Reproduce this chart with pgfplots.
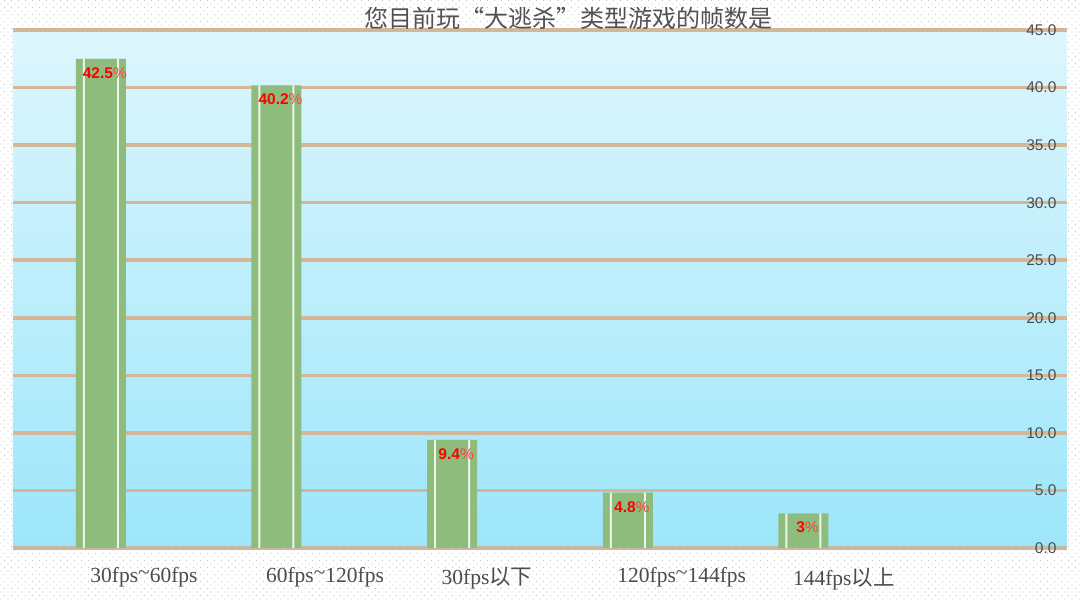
\documentclass[border=0pt]{standalone}
\usepackage{pgfplots}
\pgfplotsset{compat=1.18}
\usepackage{fontspec}
\setmainfont{Liberation Sans}
\newfontfamily\cjk{Noto Sans CJK SC}
\newfontfamily\lserif{Liberation Serif}
\usetikzlibrary{patterns}
\definecolor{bgtop}{HTML}{DDF6FD}
\definecolor{bgbot}{HTML}{9DE6FA}
\definecolor{gridc}{HTML}{D4B698}
\definecolor{barg}{HTML}{8EBC7C}
\definecolor{topc}{HTML}{E2AE88}
\definecolor{botc}{HTML}{C8B9A2}
\pgfdeclarepatternformonly{sdots}{\pgfqpoint{-1pt}{-1pt}}{\pgfqpoint{8pt}{8pt}}{\pgfqpoint{7pt}{7pt}}{%
  \pgfpathcircle{\pgfqpoint{1pt}{1pt}}{0.55pt}%
  \pgfpathcircle{\pgfqpoint{4.5pt}{4.5pt}}{0.55pt}%
  \pgfusepath{fill}}
\newcommand{\tl}{\raisebox{0.35ex}{\textasciitilde}}
\begin{document}
\begin{tikzpicture}
\path[use as bounding box] (0,0) rectangle (1080pt,600pt);
\fill[white] (0,0) rectangle (1080pt,600pt);
\fill[pattern=sdots, pattern color=black!22] (0,0) rectangle (1080pt,600pt);
\begin{axis}[
  at={(13pt,52pt)}, anchor=south west,
  scale only axis, width=1054pt, height=518pt,
  xmin=-0.5, xmax=5.5, ymin=0, ymax=45,
  axis background/.style={top color=bgtop, bottom color=bgbot},
  axis line style={draw=none},
  /pgf/number format/assume math mode=true,
  xtick={0,1,2,3,4},
  xticklabels={30fps\tl60fps, 60fps\tl120fps, 30fps{\cjk 以下}, 120fps\tl144fps, 144fps{\cjk 以上}},
  xticklabel style={font=\lserif\fontsize{21.5}{24}\selectfont, text=black!70, anchor=north west, xshift=-14pt, yshift=-16pt},
  major tick length=0pt,
  ytick={5,10,...,45},
  extra y ticks={0},
  extra y tick style={ymajorgrids, major grid style={line width=3.5pt, botc}},
  ymajorgrids, major grid style={line width=3.5pt, gridc},
  yticklabel pos=right,
  yticklabel style={anchor=east, xshift=-7pt, font=\fontsize{15.5}{18}\selectfont, text=black!70,
    /pgf/number format/.cd, fixed, fixed zerofill, precision=1},
  clip=false,
]
\addplot[ybar, bar width=50pt, bar shift=0pt, fill=barg, draw=none]
  coordinates {(0,42.5) (1,40.2) (2,9.4) (3,4.8) (4,3)};
\addplot[ybar, bar width=36pt, bar shift=0pt, fill=white!85!barg, draw=none]
  coordinates {(0,42.5) (1,40.2) (2,9.4) (3,4.8) (4,3)};
\addplot[ybar, bar width=32pt, bar shift=0pt, fill=barg, draw=none,
  nodes near coords={\textbf{\pgfmathprintnumber{\pgfplotspointmeta}}{\color{red!75}\%}},
  every node near coord/.append style={anchor=north, yshift=-5pt, xshift=4pt, text=red, font=\fontsize{15.5}{18}\selectfont}]
  coordinates {(0,42.5) (1,40.2) (2,9.4) (3,4.8) (4,3)};
\end{axis}
\node[text=black!68, font=\cjk\fontsize{24}{28}\selectfont] at (568pt,582pt) {您目前玩“大逃杀”类型游戏的帧数是};
\end{tikzpicture}
\end{document}
